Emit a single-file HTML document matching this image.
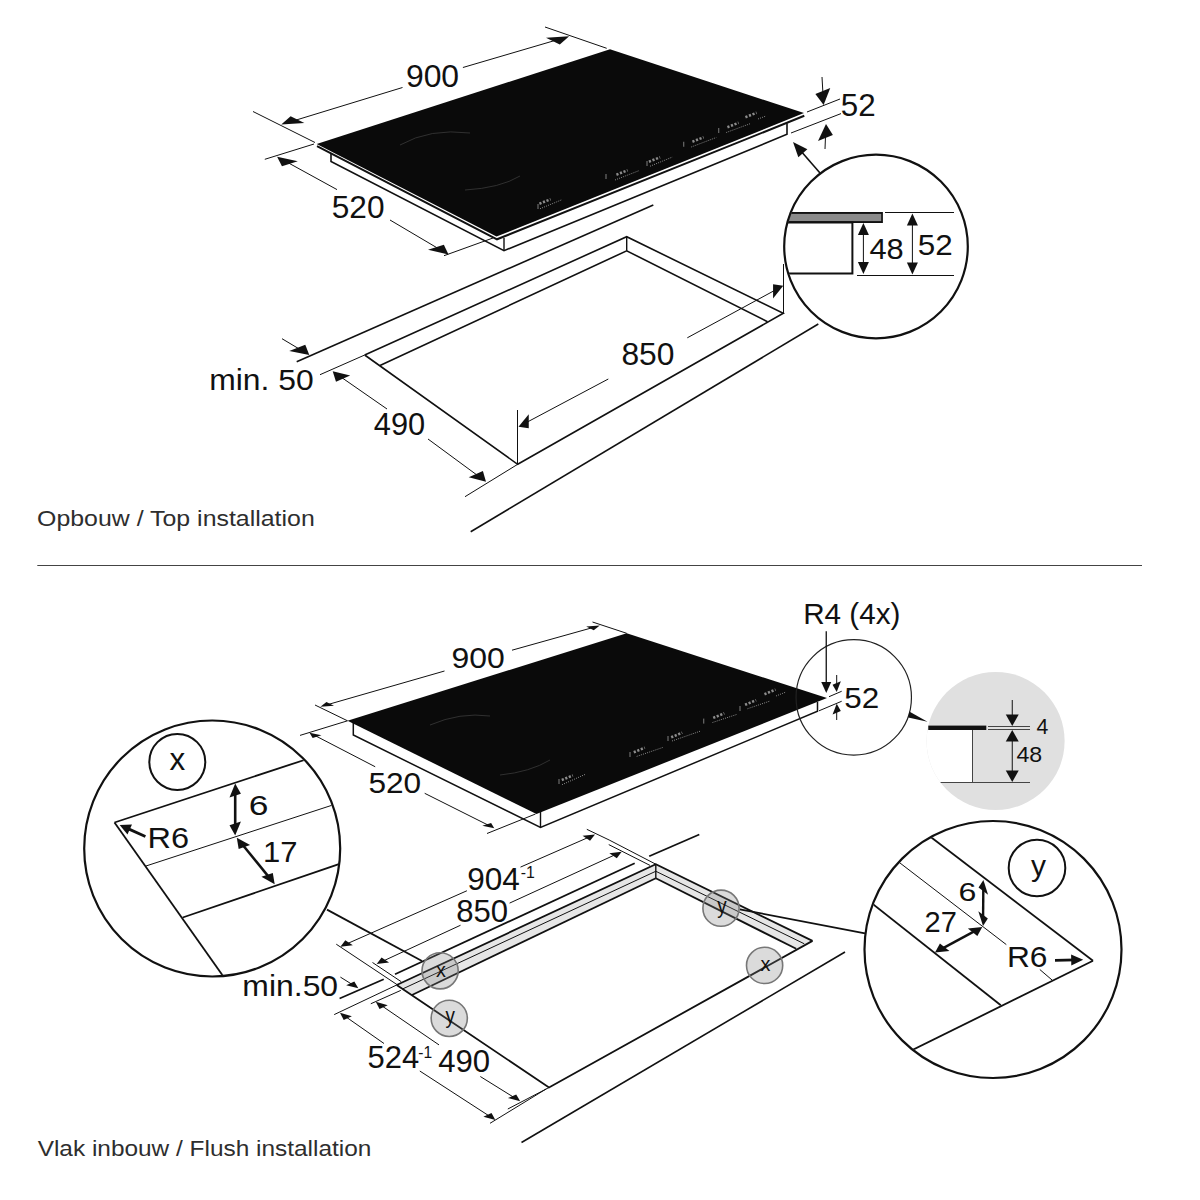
<!DOCTYPE html>
<html><head><meta charset="utf-8"><style>
html,body{margin:0;padding:0;background:#fff;}
svg{display:block;font-family:"Liberation Sans", sans-serif;}
</style></head><body>
<svg width="1200" height="1200" viewBox="0 0 1200 1200">
<rect width="1200" height="1200" fill="#fff"/>
<polyline points="331,152 331,161.4 504,250.7 787,134.3 787,122" fill="none" stroke="#111" stroke-width="1.6" stroke-linejoin="miter" />
<line x1="504" y1="238" x2="504" y2="250.7" stroke="#111" stroke-width="1.4" />
<polygon points="316.7,144 496.5,236.6 804,113.1 804.3,116.6 497,240 317,146.6" fill="#fff" />
<polyline points="317,146.2 497,239.3 804.3,115.8" fill="none" stroke="#111" stroke-width="2.0" stroke-linejoin="miter" />
<polygon points="316.7,144 610,49.3 804,113.1 496.5,236.6" fill="#0a0a0a" />
<path d="M400,145 Q430,128 470,133" stroke="#3a3a3a" stroke-width="0.8" fill="none"/>
<path d="M465,190 Q500,188 520,176" stroke="#3a3a3a" stroke-width="0.8" fill="none"/>
<line x1="539.43" y1="203.73" x2="550.57" y2="199.27" stroke="#8c8c8c" stroke-width="2.6" stroke-dasharray="2.2,1.6"/>
<line x1="540" y1="208.75" x2="561.25" y2="200" stroke="#8c8c8c" stroke-width="1" stroke-dasharray="1,1.2"/>
<line x1="538" y1="204" x2="538" y2="209" stroke="#8c8c8c" stroke-width="0.9"/>
<line x1="616.43" y1="174.73" x2="627.57" y2="170.27" stroke="#8c8c8c" stroke-width="2.6" stroke-dasharray="2.2,1.6"/>
<line x1="615" y1="180" x2="638.75" y2="170.75" stroke="#8c8c8c" stroke-width="1" stroke-dasharray="1,1.2"/>
<line x1="606" y1="174" x2="606" y2="179" stroke="#8c8c8c" stroke-width="0.9"/>
<line x1="648.93" y1="161.73" x2="660.07" y2="157.27" stroke="#8c8c8c" stroke-width="2.6" stroke-dasharray="2.2,1.6"/>
<line x1="650" y1="166.25" x2="672.5" y2="157" stroke="#8c8c8c" stroke-width="1" stroke-dasharray="1,1.2"/>
<line x1="647" y1="161" x2="647" y2="166" stroke="#8c8c8c" stroke-width="0.9"/>
<line x1="692.43" y1="141.73" x2="703.57" y2="137.27" stroke="#8c8c8c" stroke-width="2.6" stroke-dasharray="2.2,1.6"/>
<line x1="691.25" y1="147" x2="716.25" y2="137.5" stroke="#8c8c8c" stroke-width="1" stroke-dasharray="1,1.2"/>
<line x1="683.75" y1="141.75" x2="683.75" y2="146.75" stroke="#8c8c8c" stroke-width="0.9"/>
<line x1="727.43" y1="127.23" x2="738.57" y2="122.77" stroke="#8c8c8c" stroke-width="2.6" stroke-dasharray="2.2,1.6"/>
<line x1="726.25" y1="132.5" x2="750" y2="123.75" stroke="#8c8c8c" stroke-width="1" stroke-dasharray="1,1.2"/>
<line x1="718.75" y1="128" x2="718.75" y2="133" stroke="#8c8c8c" stroke-width="0.9"/>
<line x1="745.43" y1="117.23" x2="756.57" y2="112.77" stroke="#8c8c8c" stroke-width="2.6" stroke-dasharray="2.2,1.6"/>
<line x1="758" y1="119" x2="766" y2="116" stroke="#8c8c8c" stroke-width="1" stroke-dasharray="1,1.2"/>
<line x1="253" y1="111.5" x2="315" y2="142.5" stroke="#111" stroke-width="1.0" />
<line x1="545" y1="27" x2="606.7" y2="48.3" stroke="#111" stroke-width="1.0" />
<line x1="402.5" y1="87.5" x2="291" y2="121.62" stroke="#111" stroke-width="1.0" />
<polygon points="281.25,124.6 304.39,123.07 290.62,116.18" fill="#111" />
<line x1="462.9" y1="67.5" x2="559.41" y2="39.17" stroke="#111" stroke-width="1.0" />
<polygon points="569.2,36.3 559.78,44.53 546,37.64" fill="#111" />
<text transform="translate(405.91,87.19) scale(1.0437,1)" font-size="30.56" fill="#111" >900</text>
<line x1="264.8" y1="159.3" x2="314" y2="144" stroke="#111" stroke-width="1.0" />
<line x1="444" y1="255.7" x2="493" y2="238" stroke="#111" stroke-width="1.0" />
<line x1="337" y1="189.6" x2="284.78" y2="160.92" stroke="#111" stroke-width="1.0" />
<polygon points="277.1,156.7 297.82,161.26 281.97,166.19" fill="#111" />
<line x1="390" y1="220" x2="440.96" y2="250.14" stroke="#111" stroke-width="1.0" />
<polygon points="448.5,254.6 443.86,244.7 428.01,249.63" fill="#111" />
<text transform="translate(331.73,217.69) scale(1.0210,1)" font-size="30.99" fill="#111" >520</text>
<line x1="807" y1="112" x2="840" y2="99" stroke="#111" stroke-width="1.0" />
<line x1="791" y1="133" x2="841" y2="113.6" stroke="#111" stroke-width="1.0" />
<line x1="822" y1="77" x2="823.12" y2="96.61" stroke="#111" stroke-width="1.0" />
<polygon points="823.6,105 830.24,88.09 815.36,93.95" fill="#111" />
<line x1="825" y1="149" x2="825.66" y2="132.39" stroke="#111" stroke-width="1.0" />
<polygon points="826,124 832.88,135.06 818,140.92" fill="#111" />
<text transform="translate(840.75,115.69) scale(1.0125,1)" font-size="30.99" fill="#111" >52</text>
<line x1="820" y1="173" x2="798.91" y2="148.79" stroke="#111" stroke-width="1.6" />
<polygon points="793,142 807.38,149.37 798.33,157.25" fill="#111" />
<defs><clipPath id="c1"><circle cx="876" cy="246.5" r="91"/></clipPath><clipPath id="cx"><circle cx="212.2" cy="848.5" r="127"/></clipPath><clipPath id="cy"><circle cx="993" cy="949.5" r="127.5"/></clipPath><clipPath id="cg"><circle cx="995.6" cy="741" r="69"/></clipPath></defs>
<g clip-path="url(#c1)">
<polyline points="770,213 882,213 882,222 770,222" fill="#8a8a8a" stroke="#111" stroke-width="1.8" stroke-linejoin="miter" />
<rect x="770" y="213.9" width="111.1" height="7.2" fill="#8a8a8a"/>
<polyline points="770,222.5 852.4,222.5 852.4,273.6 770,273.6" fill="none" stroke="#111" stroke-width="2" stroke-linejoin="miter" />
</g>
<circle cx="876" cy="246.5" r="91.8" fill="none" stroke="#111" stroke-width="2.2" />
<line x1="885" y1="212.5" x2="954" y2="212.5" stroke="#111" stroke-width="1.0" />
<line x1="857" y1="275.5" x2="954" y2="275.5" stroke="#111" stroke-width="1.0" />
<line x1="863.4" y1="230.2" x2="863.4" y2="266.8" stroke="#111" stroke-width="1.0" />
<polygon points="863.4,274 857.9,262 868.9,262" fill="#111" />
<polygon points="863.4,223 868.9,235 857.9,235" fill="#111" />
<line x1="912.4" y1="220.7" x2="912.4" y2="267.3" stroke="#111" stroke-width="1.0" />
<polygon points="912.4,274.5 906.9,262.5 917.9,262.5" fill="#111" />
<polygon points="912.4,213.5 917.9,225.5 906.9,225.5" fill="#111" />
<text transform="translate(869.38,258.7) scale(1.0433,1)" font-size="29.58" fill="#111" >48</text>
<text transform="translate(917.75,254.7) scale(1.0607,1)" font-size="29.58" fill="#111" >52</text>
<polyline points="364.7,355 626.7,236.7 783.3,313.3 517.7,464.3 364.7,355" fill="none" stroke="#111" stroke-width="1.6" stroke-linejoin="miter" />
<polyline points="380,365.5 626.7,250.8 767.5,321.7" fill="none" stroke="#111" stroke-width="1.6" stroke-linejoin="miter" />
<line x1="626.7" y1="236.7" x2="626.7" y2="250.8" stroke="#111" stroke-width="1.4" />
<line x1="296.7" y1="361.7" x2="653.3" y2="205" stroke="#111" stroke-width="1.6" />
<line x1="470.7" y1="531.7" x2="818.3" y2="324" stroke="#111" stroke-width="1.6" />
<line x1="282" y1="338.7" x2="302.09" y2="350.69" stroke="#111" stroke-width="1.0" />
<polygon points="309.3,355 305.28,344.67 289.28,350.97" fill="#111" />
<line x1="320" y1="374.7" x2="364.7" y2="355" stroke="#111" stroke-width="1.0" />
<text transform="translate(209.27,389.7) scale(1.0717,1)" font-size="29.73" fill="#111" >min. 50</text>
<line x1="387" y1="409" x2="338.93" y2="375.63" stroke="#111" stroke-width="1.0" />
<polygon points="332.7,371.3 350.18,375.39 336,381.64" fill="#111" />
<line x1="428" y1="439" x2="479.89" y2="477.2" stroke="#111" stroke-width="1.0" />
<polygon points="486,481.7 482.9,471.07 468.72,477.33" fill="#111" />
<line x1="465" y1="496.7" x2="517.7" y2="464.3" stroke="#111" stroke-width="1.0" />
<text transform="translate(373.78,435.3) scale(1.0127,1)" font-size="30.42" fill="#111" >490</text>
<line x1="517.5" y1="410" x2="517.5" y2="464.3" stroke="#111" stroke-width="1.0" />
<line x1="783.5" y1="264" x2="783.5" y2="313.3" stroke="#111" stroke-width="1.0" />
<line x1="608.3" y1="379" x2="524.65" y2="423.44" stroke="#111" stroke-width="1.0" />
<polygon points="518.5,426.7 528.74,428.36 528.74,414.16" fill="#111" />
<line x1="687.3" y1="337.8" x2="777.13" y2="289.07" stroke="#111" stroke-width="1.0" />
<polygon points="783.25,285.75 773.05,298.38 773.05,284.18" fill="#111" />
<text transform="translate(621.43,364.69) scale(1.0412,1)" font-size="30.56" fill="#111" >850</text>
<text transform="translate(37.05,525.73) scale(1.1203,1)" font-size="22.23" fill="#2e2e2e" >Opbouw / Top installation</text>
<line x1="37.3" y1="565.5" x2="1142" y2="565.5" stroke="#444" stroke-width="1.2" />
<polyline points="353.3,722 353.3,735 540.5,827.5 817.5,711.25 817.5,702" fill="none" stroke="#111" stroke-width="1.5" stroke-linejoin="miter" />
<line x1="540.5" y1="812" x2="540.5" y2="827.5" stroke="#111" stroke-width="1.4" />
<polygon points="347.5,720.8 626.7,633.3 827,698 536.5,814" fill="#0a0a0a" />
<path d="M430,725 Q460,712 490,716" stroke="#3a3a3a" stroke-width="0.8" fill="none"/>
<path d="M500,775 Q530,772 550,760" stroke="#3a3a3a" stroke-width="0.8" fill="none"/>
<line x1="561.77" y1="780.02" x2="572.83" y2="775.38" stroke="#8c8c8c" stroke-width="2.6" stroke-dasharray="2.2,1.6"/>
<line x1="562" y1="784.7" x2="586" y2="774" stroke="#8c8c8c" stroke-width="1" stroke-dasharray="1,1.2"/>
<line x1="559" y1="779" x2="559" y2="784" stroke="#8c8c8c" stroke-width="0.9"/>
<line x1="633.77" y1="752.32" x2="644.83" y2="747.68" stroke="#8c8c8c" stroke-width="2.6" stroke-dasharray="2.2,1.6"/>
<line x1="636.7" y1="756.4" x2="663.3" y2="747.3" stroke="#8c8c8c" stroke-width="1" stroke-dasharray="1,1.2"/>
<line x1="630" y1="752" x2="630" y2="757" stroke="#8c8c8c" stroke-width="0.9"/>
<line x1="671.17" y1="737.32" x2="682.23" y2="732.68" stroke="#8c8c8c" stroke-width="2.6" stroke-dasharray="2.2,1.6"/>
<line x1="672" y1="741" x2="700.7" y2="731" stroke="#8c8c8c" stroke-width="1" stroke-dasharray="1,1.2"/>
<line x1="668" y1="736" x2="668" y2="741" stroke="#8c8c8c" stroke-width="0.9"/>
<line x1="713.22" y1="717.92" x2="724.28" y2="713.28" stroke="#8c8c8c" stroke-width="2.6" stroke-dasharray="2.2,1.6"/>
<line x1="712.5" y1="722.5" x2="736.9" y2="714.4" stroke="#8c8c8c" stroke-width="1" stroke-dasharray="1,1.2"/>
<line x1="703.75" y1="718.6" x2="703.75" y2="723.6" stroke="#8c8c8c" stroke-width="0.9"/>
<line x1="745.07" y1="704.82" x2="756.13" y2="700.18" stroke="#8c8c8c" stroke-width="2.6" stroke-dasharray="2.2,1.6"/>
<line x1="747.5" y1="708.75" x2="769.4" y2="701.25" stroke="#8c8c8c" stroke-width="1" stroke-dasharray="1,1.2"/>
<line x1="740" y1="706" x2="740" y2="711" stroke="#8c8c8c" stroke-width="0.9"/>
<line x1="764.47" y1="694.22" x2="775.53" y2="689.58" stroke="#8c8c8c" stroke-width="2.6" stroke-dasharray="2.2,1.6"/>
<line x1="776" y1="696" x2="786" y2="692" stroke="#8c8c8c" stroke-width="1" stroke-dasharray="1,1.2"/>
<line x1="315" y1="705" x2="347.5" y2="720.8" stroke="#111" stroke-width="1.0" />
<line x1="592.5" y1="622" x2="626.7" y2="633.3" stroke="#111" stroke-width="1.0" />
<line x1="444.5" y1="671" x2="326.28" y2="705.01" stroke="#111" stroke-width="1.0" />
<polygon points="320.4,706.7 333.98,705.72 326.43,702.04" fill="#111" />
<line x1="512" y1="650.2" x2="593.91" y2="627.25" stroke="#111" stroke-width="1.0" />
<polygon points="599.8,625.6 593.76,630.19 586.2,626.52" fill="#111" />
<text transform="translate(451.4,667.7) scale(1.0704,1)" font-size="29.86" fill="#111" >900</text>
<line x1="300" y1="735.4" x2="347.5" y2="720.8" stroke="#111" stroke-width="1.0" />
<line x1="487" y1="833.5" x2="535.5" y2="814" stroke="#111" stroke-width="1.0" />
<line x1="375.2" y1="766.75" x2="314.03" y2="735.05" stroke="#111" stroke-width="1.0" />
<polygon points="309.5,732.7 321.44,735.26 312.65,737.96" fill="#111" />
<line x1="424.7" y1="793.3" x2="489.74" y2="825.91" stroke="#111" stroke-width="1.0" />
<polygon points="494.3,828.2 491.1,823.04 482.3,825.74" fill="#111" />
<text transform="translate(368.43,793) scale(1.0670,1)" font-size="29.65" fill="#111" >520</text>
<circle cx="853.75" cy="697.4" r="57.7" fill="none" stroke="#222" stroke-width="1.2" />
<line x1="829" y1="696.7" x2="841.7" y2="691.25" stroke="#111" stroke-width="1.0" />
<line x1="819" y1="710.8" x2="841.7" y2="701.25" stroke="#111" stroke-width="1.0" />
<line x1="836.7" y1="675" x2="836.7" y2="686.6" stroke="#111" stroke-width="1.0" />
<polygon points="836.7,692 840.84,681.23 832.56,684.77" fill="#111" />
<line x1="836.7" y1="720" x2="836.7" y2="709.15" stroke="#111" stroke-width="1.0" />
<polygon points="836.7,703.75 840.84,710.98 832.56,714.52" fill="#111" />
<text transform="translate(844.25,707.7) scale(1.0607,1)" font-size="29.58" fill="#111" >52</text>
<line x1="826.25" y1="631.25" x2="826.25" y2="686.4" stroke="#111" stroke-width="1.3" />
<polygon points="826.25,693 821.25,682 831.25,682" fill="#111" />
<text transform="translate(803.13,623.96) scale(0.9824,1)" font-size="30.21" fill="#111" >R4 (4x)</text>
<polygon points="909.25,711.5 908.25,717.5 927.5,721.75" fill="#111" />
<circle cx="995.6" cy="741" r="69" fill="#e0e0e0" stroke="none" stroke-width="0" />
<g clip-path="url(#cg)">
<rect x="920" y="730" width="52.5" height="52" fill="#fff"/>
</g>
<rect x="928.3" y="725.6" width="58" height="4.4" fill="#111"/>
<line x1="972.5" y1="730" x2="972.5" y2="782" stroke="#444" stroke-width="1.0" />
<line x1="940.6" y1="782.5" x2="1030" y2="782.5" stroke="#444" stroke-width="1.0" />
<line x1="988" y1="726.5" x2="1030" y2="726.5" stroke="#444" stroke-width="1.0" />
<line x1="988" y1="729.5" x2="1030" y2="729.5" stroke="#444" stroke-width="1.0" />
<line x1="1012.25" y1="700" x2="1012.25" y2="719.04" stroke="#111" stroke-width="1.0" />
<polygon points="1012.25,726 1005.75,714.4 1018.75,714.4" fill="#111" />
<line x1="1012.25" y1="736.9" x2="1012.25" y2="775.1" stroke="#111" stroke-width="1.0" />
<polygon points="1012.25,782 1005.75,770.5 1018.75,770.5" fill="#111" />
<polygon points="1012.25,730 1018.75,741.5 1005.75,741.5" fill="#111" />
<text transform="translate(1036.47,733.75) scale(0.9516,1)" font-size="22.36" fill="#111" >4</text>
<text transform="translate(1016.44,762.28) scale(1.0555,1)" font-size="21.97" fill="#111" >48</text>
<g clip-path="url(#cx)">
<line x1="114.5" y1="822.5" x2="330" y2="751.5" stroke="#111" stroke-width="1.8" />
<line x1="114.5" y1="822.5" x2="240" y2="1000" stroke="#111" stroke-width="1.8" />
<line x1="145.4" y1="866.2" x2="345" y2="801" stroke="#111" stroke-width="1.0" />
<line x1="182.7" y1="917.5" x2="345" y2="862" stroke="#111" stroke-width="1.8" />
</g>
<circle cx="212.2" cy="848.5" r="128" fill="none" stroke="#111" stroke-width="2.2" />
<circle cx="177.3" cy="761.9" r="28" fill="none" stroke="#111" stroke-width="2" />
<text transform="translate(169.59,770) scale(1.0229,1)" font-size="30.75" fill="#111" >x</text>
<line x1="235.2" y1="790.8" x2="235.2" y2="828.2" stroke="#111" stroke-width="2.6" />
<polygon points="235.2,835.4 240.9,821.52 229.5,825.28" fill="#111" />
<polygon points="235.2,783.6 240.9,793.72 229.5,797.48" fill="#111" />
<text transform="translate(248.63,815.22) scale(1.2706,1)" font-size="27.89" fill="#111" >6</text>
<line x1="145.4" y1="836.5" x2="125.72" y2="827.62" stroke="#111" stroke-width="2.8" />
<polygon points="119.7,824.9 131.99,824.41 127.46,834.44" fill="#111" />
<text transform="translate(147.4,847.91) scale(1.1375,1)" font-size="28.59" fill="#111" >R6</text>
<line x1="241.35" y1="843.28" x2="270.15" y2="878.62" stroke="#111" stroke-width="2.6" />
<polygon points="274.7,884.2 272.82,873.02 261.42,876.78" fill="#111" />
<polygon points="236.8,837.7 250.08,845.12 238.68,848.88" fill="#111" />
<text transform="translate(263.02,862.2) scale(1.0340,1)" font-size="30.00" fill="#111" >17</text>
<g clip-path="url(#cy)">
<line x1="915" y1="825" x2="1093" y2="960.8" stroke="#111" stroke-width="1.8" />
<line x1="1093" y1="960.8" x2="880" y2="1066" stroke="#111" stroke-width="1.8" />
<line x1="860" y1="832.3" x2="1006.3" y2="944.6" stroke="#111" stroke-width="1.0" />
<line x1="1039.8" y1="969.5" x2="1052.4" y2="980.3" stroke="#111" stroke-width="1.0" />
<line x1="860" y1="894" x2="1000.8" y2="1005.3" stroke="#111" stroke-width="1.8" />
</g>
<circle cx="993" cy="949.5" r="128.5" fill="none" stroke="#111" stroke-width="2.2" />
<circle cx="1037" cy="868" r="28.3" fill="none" stroke="#111" stroke-width="2" />
<text transform="translate(1031,875.61) scale(1.0183,1)" font-size="29.46" fill="#111" >y</text>
<line x1="983.34" y1="886.7" x2="983.06" y2="919.3" stroke="#111" stroke-width="2.4" />
<polygon points="983,925.9 987.85,918.56 978.34,911.24" fill="#111" />
<polygon points="983.4,880.1 988.06,894.76 978.55,887.44" fill="#111" />
<text transform="translate(958.39,901.04) scale(1.2348,1)" font-size="26.06" fill="#111" >6</text>
<line x1="976.49" y1="930.13" x2="940.81" y2="949.37" stroke="#111" stroke-width="2.4" />
<polygon points="935,952.5 949.44,950.94 939.93,943.62" fill="#111" />
<polygon points="982.3,927 977.37,935.88 967.86,928.56" fill="#111" />
<text transform="translate(924.55,931.6) scale(0.9858,1)" font-size="29.43" fill="#111" >27</text>
<text transform="translate(1006.96,967.01) scale(1.0993,1)" font-size="28.87" fill="#111" >R6</text>
<line x1="1055" y1="960.4" x2="1076" y2="959.95" stroke="#111" stroke-width="2.8" />
<polygon points="1083.2,959.8 1071.32,965.55 1071.09,954.56" fill="#111" />
<polygon points="396.7,985 655.8,864.2 655.8,878.3 412,995" fill="#e6e6e6" />
<polygon points="655.8,864.2 812.5,940.9 796.2,948.8 655.8,878.3" fill="#e6e6e6" />
<polyline points="396.7,985 655.8,864.2 812.5,940.9" fill="none" stroke="#111" stroke-width="1.8" stroke-linejoin="miter" />
<polyline points="396.7,985 549,1087.5 812.5,940.9" fill="none" stroke="#111" stroke-width="1.8" stroke-linejoin="miter" />
<line x1="412" y1="995" x2="655.8" y2="878.3" stroke="#111" stroke-width="1.8" />
<line x1="655.8" y1="878.3" x2="796.2" y2="948.8" stroke="#111" stroke-width="1.8" />
<line x1="655.8" y1="864.2" x2="655.8" y2="878.3" stroke="#111" stroke-width="1.4" />
<line x1="334.2" y1="1014.6" x2="396.7" y2="985" stroke="#111" stroke-width="1.0" />
<line x1="402.5" y1="989" x2="655.8" y2="871.25" stroke="#111" stroke-width="1.0" />
<line x1="655.8" y1="871.25" x2="804.3" y2="943.8" stroke="#111" stroke-width="1.0" />
<line x1="339.6" y1="998.5" x2="383.75" y2="979.2" stroke="#111" stroke-width="1.8" />
<line x1="395" y1="974.3" x2="634.7" y2="863.2" stroke="#111" stroke-width="1.8" />
<line x1="649.2" y1="856.25" x2="699.3" y2="834.5" stroke="#111" stroke-width="1.8" />
<line x1="521.5" y1="1142.5" x2="845" y2="952" stroke="#111" stroke-width="1.6" />
<line x1="336.25" y1="944.2" x2="397" y2="984.6" stroke="#111" stroke-width="1.0" />
<line x1="372.5" y1="962.5" x2="401.25" y2="981.7" stroke="#111" stroke-width="1.0" />
<line x1="370.8" y1="1003.75" x2="400.8" y2="990.4" stroke="#111" stroke-width="1.0" />
<line x1="490" y1="1123.3" x2="546.3" y2="1088.9" stroke="#111" stroke-width="1.0" />
<line x1="507.8" y1="1109" x2="549" y2="1087.5" stroke="#111" stroke-width="1.0" />
<line x1="609.2" y1="840" x2="655.8" y2="864.2" stroke="#111" stroke-width="1.0" />
<line x1="586.8" y1="829.3" x2="609.2" y2="840" stroke="#111" stroke-width="1.0" />
<line x1="608.75" y1="844.6" x2="650" y2="865.4" stroke="#111" stroke-width="1.0" />
<line x1="466.9" y1="890.75" x2="345.61" y2="944.39" stroke="#111" stroke-width="1.0" />
<polygon points="340.4,946.7 352.84,945.35 345.34,940.37" fill="#111" />
<line x1="520.5" y1="867.1" x2="589.78" y2="836.79" stroke="#111" stroke-width="1.0" />
<polygon points="595,834.5 590.04,840.8 582.55,835.82" fill="#111" />
<text transform="translate(467.17,889.69) scale(1.0226,1)" font-size="30.85" fill="#111" >904</text>
<text transform="translate(520.66,878) scale(1.0049,1)" font-size="15.80" fill="#111" >-1</text>
<line x1="460.5" y1="925.25" x2="381.87" y2="961.61" stroke="#111" stroke-width="1.0" />
<polygon points="376.7,964 389.06,962.51 381.58,957.51" fill="#111" />
<line x1="509.6" y1="903.1" x2="616.52" y2="854.12" stroke="#111" stroke-width="1.0" />
<polygon points="621.7,851.75 616.81,858.21 609.32,853.21" fill="#111" />
<text transform="translate(456.25,921.99) scale(1.0139,1)" font-size="30.70" fill="#111" >850</text>
<line x1="340.4" y1="977.1" x2="353.47" y2="985.28" stroke="#111" stroke-width="1.0" />
<polygon points="358.3,988.3 354.33,981.38 346.16,985.14" fill="#111" />
<text transform="translate(242.37,995.9) scale(1.0731,1)" font-size="29.73" fill="#111" >min.50</text>
<line x1="384" y1="1043.5" x2="344.67" y2="1015.97" stroke="#111" stroke-width="1.0" />
<polygon points="340,1012.7 351.85,1016.22 343.72,1020.07" fill="#111" />
<line x1="419.8" y1="1071" x2="490.62" y2="1116.9" stroke="#111" stroke-width="1.0" />
<polygon points="495.4,1120 491.49,1112.91 483.36,1116.76" fill="#111" />
<text transform="translate(367.51,1068.29) scale(0.9904,1)" font-size="31.27" fill="#111" >524</text>
<text transform="translate(418.27,1058.1) scale(0.9215,1)" font-size="16.96" fill="#111" >-1</text>
<line x1="439" y1="1044.9" x2="380.51" y2="1004.92" stroke="#111" stroke-width="1.0" />
<polygon points="375.8,1001.7 387.75,1005.23 379.53,1008.89" fill="#111" />
<line x1="480.3" y1="1076.5" x2="515.36" y2="1098.29" stroke="#111" stroke-width="1.0" />
<polygon points="520.2,1101.3 516.24,1094.46 508.02,1098.11" fill="#111" />
<text transform="translate(438.18,1071.79) scale(0.9952,1)" font-size="31.27" fill="#111" >490</text>
<line x1="327" y1="909.6" x2="422" y2="961" stroke="#111" stroke-width="1.8" />
<line x1="739.7" y1="909.3" x2="865" y2="933.3" stroke="#111" stroke-width="1.8" />
<circle cx="440.1" cy="970.8" r="18.1" fill="rgba(125,125,125,0.28)" stroke="#777" stroke-width="1.6" />
<text transform="translate(435.9,976.8) scale(0.9536,1)" font-size="20.75" fill="#111" >x</text>
<circle cx="449.25" cy="1018.35" r="18.1" fill="rgba(125,125,125,0.28)" stroke="#777" stroke-width="1.6" />
<text transform="translate(445.6,1023.36) scale(0.8695,1)" font-size="21.62" fill="#111" >y</text>
<circle cx="721" cy="908.2" r="18.1" fill="rgba(125,125,125,0.28)" stroke="#777" stroke-width="1.6" />
<text transform="translate(717.35,913.21) scale(0.8695,1)" font-size="21.62" fill="#111" >y</text>
<circle cx="764.6" cy="965.4" r="18.1" fill="rgba(125,125,125,0.28)" stroke="#777" stroke-width="1.6" />
<text transform="translate(760.4,971.4) scale(0.9536,1)" font-size="20.75" fill="#111" >x</text>
<text transform="translate(37.66,1156.04) scale(1.1401,1)" font-size="21.42" fill="#2e2e2e" >Vlak inbouw / Flush installation</text>
</svg></body></html>
